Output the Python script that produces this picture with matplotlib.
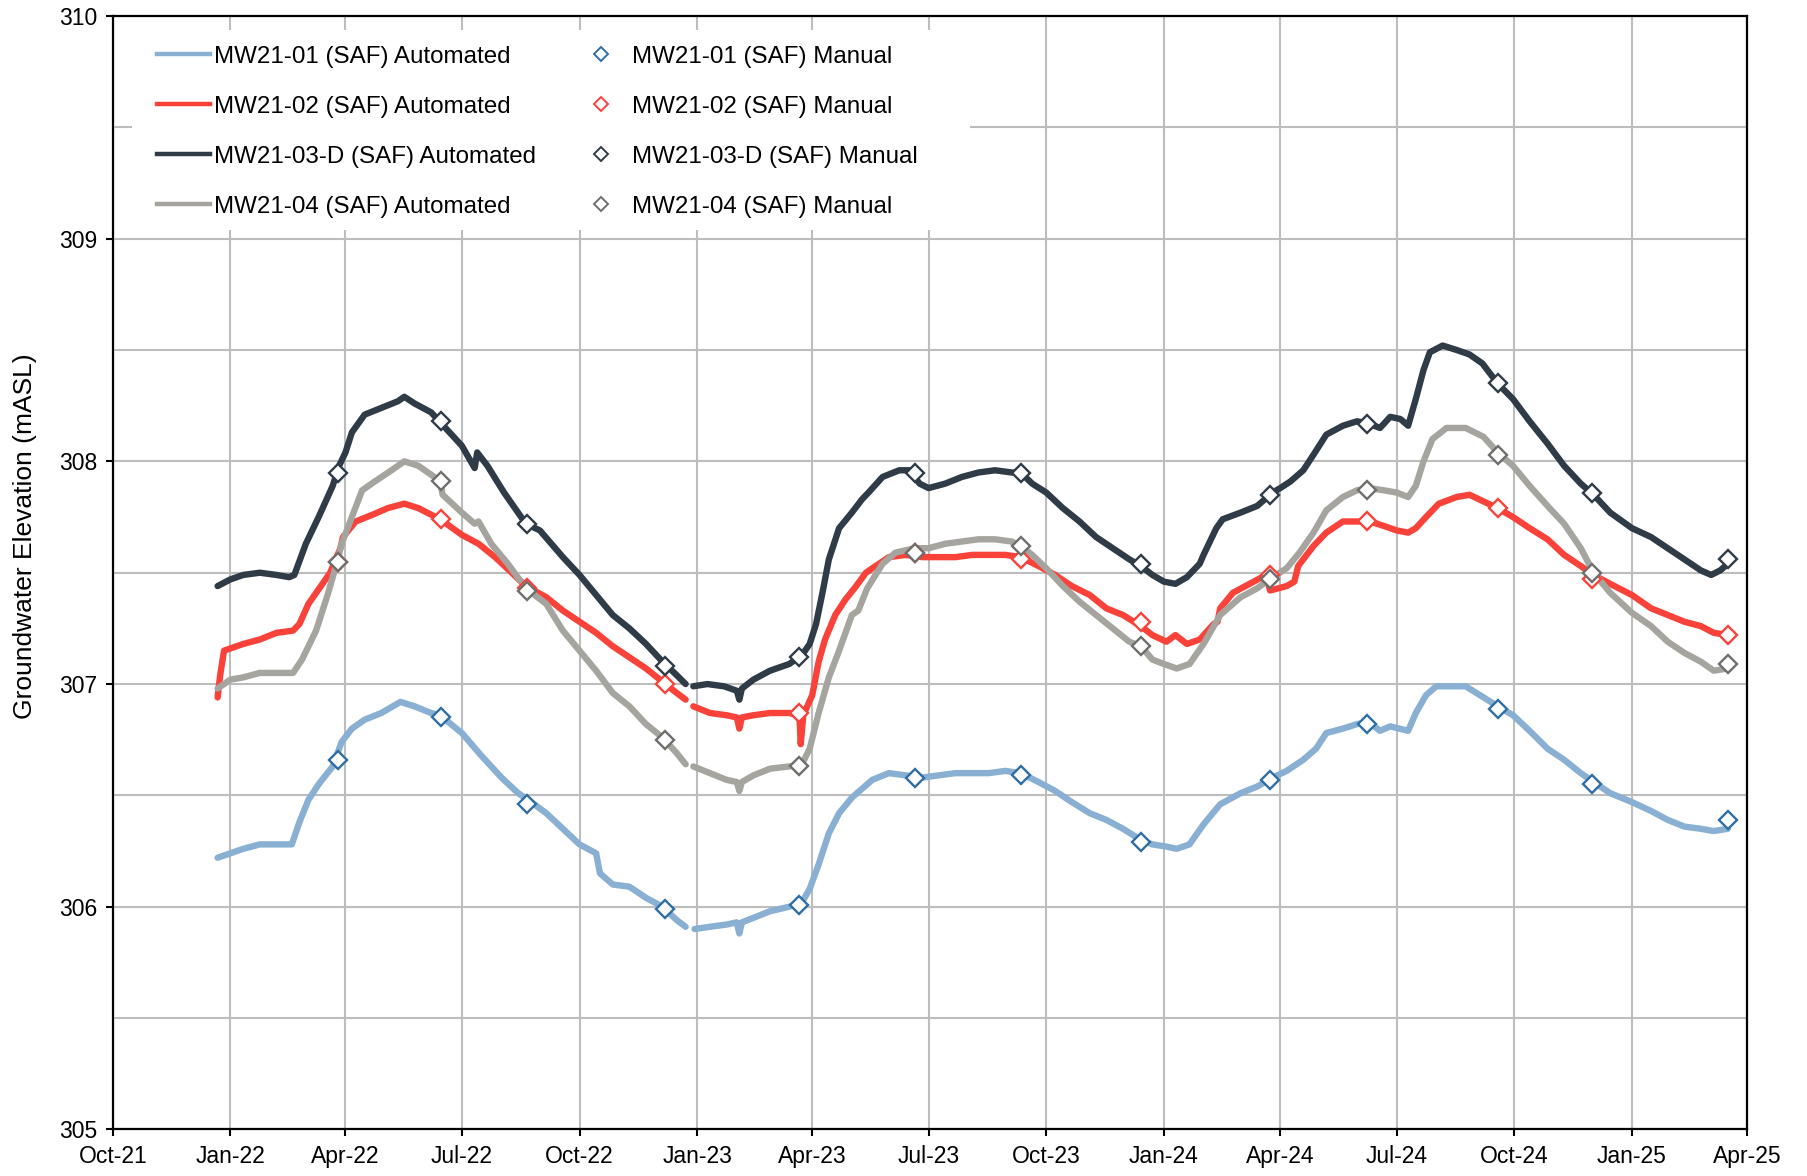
import numpy as np
import pandas as pd
import matplotlib
matplotlib.use("Agg")
import matplotlib.pyplot as plt
from matplotlib.lines import Line2D
from matplotlib.patches import Rectangle

plt.rcParams['font.family'] = ['Liberation Sans', 'DejaVu Sans']

# ---------------- data ----------------
mw01_dates = ["2021-12-22","2022-01-01","2022-01-11","2022-01-24","2022-02-06","2022-02-18","2022-02-24","2022-03-03","2022-03-11","2022-03-22","2022-03-29","2022-04-06","2022-04-16","2022-04-29","2022-05-14","2022-05-25","2022-06-07","2022-06-14","2022-07-01","2022-07-16","2022-08-01","2022-08-14","2022-08-22","2022-09-05","2022-09-18","2022-10-01","2022-10-14","2022-10-17","2022-10-27","2022-11-09","2022-11-22","2022-12-05","2022-12-16","2022-12-23","2022-12-26","2022-12-30","2023-01-11","2023-01-24","2023-02-01","2023-02-03","2023-02-05","2023-02-14","2023-02-27","2023-03-14","2023-03-24","2023-03-30","2023-04-06","2023-04-14","2023-04-22","2023-05-02","2023-05-10","2023-05-18","2023-05-31","2023-06-13","2023-06-26","2023-07-09","2023-07-22","2023-08-04","2023-08-17","2023-08-30","2023-09-11","2023-09-25","2023-10-08","2023-10-21","2023-11-04","2023-11-17","2023-11-30","2023-12-14","2023-12-23","2024-01-03","2024-01-11","2024-01-21","2024-02-01","2024-02-14","2024-03-01","2024-03-14","2024-03-26","2024-04-06","2024-04-19","2024-04-29","2024-05-07","2024-05-20","2024-05-31","2024-06-09","2024-06-18","2024-06-26","2024-07-10","2024-07-16","2024-07-24","2024-08-01","2024-08-14","2024-08-24","2024-09-07","2024-09-18","2024-09-30","2024-10-13","2024-10-27","2024-11-09","2024-11-22","2024-12-02","2024-12-15","2025-01-01","2025-01-16","2025-01-29","2025-02-11","2025-02-24","2025-03-06","2025-03-17"]
mw01_vals = [306.22,306.24,306.26,306.28,306.28,306.28,306.38,306.48,306.55,306.63,306.74,306.80,306.84,306.87,306.92,306.90,306.87,306.86,306.78,306.68,306.58,306.51,306.48,306.42,306.35,306.28,306.24,306.15,306.10,306.09,306.04,306.00,305.94,305.91,np.nan,305.90,305.91,305.92,305.93,305.88,305.93,305.95,305.98,306.00,306.02,306.08,306.19,306.33,306.42,306.49,306.53,306.57,306.60,306.59,306.58,306.59,306.60,306.60,306.60,306.61,306.60,306.56,306.52,306.47,306.42,306.39,306.35,306.30,306.28,306.27,306.26,306.28,306.37,306.46,306.51,306.54,306.58,306.61,306.66,306.71,306.78,306.80,306.82,306.83,306.79,306.81,306.79,306.87,306.95,306.99,306.99,306.99,306.94,306.90,306.86,306.79,306.71,306.66,306.60,306.56,306.51,306.47,306.43,306.39,306.36,306.35,306.34,306.35]

mw02_dates = ["2021-12-22","2021-12-24","2021-12-27","2022-01-01","2022-01-11","2022-01-24","2022-02-06","2022-02-19","2022-02-24","2022-03-03","2022-03-14","2022-03-20","2022-03-28","2022-03-30","2022-04-09","2022-04-22","2022-05-04","2022-05-17","2022-05-28","2022-06-14","2022-07-01","2022-07-14","2022-07-27","2022-08-09","2022-08-20","2022-09-05","2022-09-18","2022-10-01","2022-10-14","2022-10-27","2022-11-09","2022-11-22","2022-12-05","2022-12-16","2022-12-23","2022-12-26","2022-12-29","2023-01-11","2023-01-24","2023-02-01","2023-02-03","2023-02-05","2023-02-14","2023-02-27","2023-03-14","2023-03-22","2023-03-23","2023-03-25","2023-04-01","2023-04-06","2023-04-11","2023-04-19","2023-04-27","2023-05-04","2023-05-13","2023-05-18","2023-05-31","2023-06-13","2023-06-26","2023-07-09","2023-07-22","2023-08-04","2023-08-17","2023-08-30","2023-09-11","2023-09-25","2023-10-08","2023-10-21","2023-11-04","2023-11-17","2023-11-30","2023-12-14","2023-12-23","2024-01-03","2024-01-10","2024-01-19","2024-01-29","2024-02-09","2024-02-12","2024-02-14","2024-02-24","2024-03-08","2024-03-21","2024-03-24","2024-04-06","2024-04-12","2024-04-15","2024-04-27","2024-05-07","2024-05-20","2024-05-31","2024-06-10","2024-06-21","2024-07-01","2024-07-10","2024-07-16","2024-07-24","2024-08-03","2024-08-17","2024-08-27","2024-09-07","2024-09-18","2024-09-30","2024-10-13","2024-10-27","2024-11-09","2024-11-22","2024-12-02","2024-12-15","2025-01-01","2025-01-16","2025-01-29","2025-02-11","2025-02-24","2025-03-06","2025-03-17"]
mw02_vals = [306.94,307.04,307.15,307.16,307.18,307.20,307.23,307.24,307.27,307.36,307.45,307.50,307.61,307.66,307.73,307.76,307.79,307.81,307.79,307.74,307.67,307.63,307.57,307.50,307.44,307.39,307.33,307.28,307.23,307.17,307.12,307.07,307.01,306.96,306.93,np.nan,306.90,306.87,306.86,306.85,306.80,306.85,306.86,306.87,306.87,306.86,306.73,306.86,306.95,307.10,307.20,307.31,307.38,307.43,307.50,307.52,307.57,307.58,307.57,307.57,307.57,307.58,307.58,307.58,307.57,307.53,307.49,307.44,307.40,307.34,307.31,307.26,307.22,307.19,307.22,307.18,307.20,307.27,307.28,307.34,307.41,307.45,307.49,307.42,307.44,307.46,307.53,307.62,307.68,307.73,307.73,307.73,307.71,307.69,307.68,307.70,307.75,307.81,307.84,307.85,307.82,307.79,307.75,307.70,307.65,307.58,307.53,307.49,307.45,307.40,307.34,307.31,307.28,307.26,307.23,307.22]

mw03_dates = ["2021-12-22","2022-01-01","2022-01-11","2022-01-24","2022-02-06","2022-02-16","2022-02-20","2022-03-01","2022-03-11","2022-03-22","2022-03-27","2022-04-01","2022-04-06","2022-04-16","2022-04-29","2022-05-12","2022-05-17","2022-05-25","2022-06-07","2022-06-15","2022-06-23","2022-07-01","2022-07-11","2022-07-13","2022-07-21","2022-08-03","2022-08-20","2022-08-31","2022-09-18","2022-10-01","2022-10-14","2022-10-27","2022-11-09","2022-11-22","2022-12-05","2022-12-16","2022-12-23","2022-12-26","2022-12-29","2023-01-09","2023-01-22","2023-02-01","2023-02-03","2023-02-05","2023-02-14","2023-02-27","2023-03-14","2023-03-24","2023-03-30","2023-04-04","2023-04-09","2023-04-14","2023-04-22","2023-05-02","2023-05-10","2023-05-15","2023-05-26","2023-06-08","2023-06-16","2023-06-24","2023-07-01","2023-07-14","2023-07-27","2023-08-09","2023-08-22","2023-09-04","2023-09-11","2023-09-20","2023-10-01","2023-10-14","2023-10-27","2023-11-09","2023-11-22","2023-12-05","2023-12-14","2023-12-23","2024-01-01","2024-01-10","2024-01-19","2024-01-29","2024-02-01","2024-02-11","2024-02-16","2024-03-01","2024-03-14","2024-03-26","2024-04-01","2024-04-09","2024-04-19","2024-04-27","2024-05-07","2024-05-20","2024-05-31","2024-06-09","2024-06-18","2024-06-26","2024-07-04","2024-07-10","2024-07-16","2024-07-22","2024-07-27","2024-08-06","2024-08-17","2024-08-27","2024-09-06","2024-09-18","2024-09-30","2024-10-13","2024-10-27","2024-11-09","2024-11-22","2024-12-02","2024-12-15","2025-01-01","2025-01-16","2025-01-29","2025-02-11","2025-02-24","2025-03-04","2025-03-11","2025-03-17"]
mw03_vals = [307.44,307.47,307.49,307.50,307.49,307.48,307.49,307.63,307.75,307.89,307.98,308.04,308.13,308.21,308.24,308.27,308.29,308.26,308.22,308.17,308.12,308.07,307.97,308.04,307.98,307.86,307.72,307.69,307.57,307.49,307.40,307.31,307.25,307.18,307.10,307.04,307.00,np.nan,306.99,307.00,306.99,306.97,306.93,306.98,307.02,307.06,307.09,307.13,307.18,307.27,307.41,307.56,307.70,307.77,307.83,307.86,307.93,307.96,307.96,307.90,307.88,307.90,307.93,307.95,307.96,307.95,307.95,307.90,307.86,307.79,307.73,307.66,307.61,307.56,307.53,307.49,307.46,307.45,307.48,307.54,307.58,307.70,307.74,307.77,307.80,307.86,307.88,307.91,307.96,308.03,308.12,308.16,308.18,308.17,308.15,308.20,308.19,308.16,308.28,308.41,308.49,308.52,308.50,308.48,308.44,308.35,308.28,308.18,308.08,307.98,307.90,307.85,307.77,307.70,307.66,307.61,307.56,307.51,307.49,307.51,307.54]

mw04_dates = ["2021-12-22","2022-01-01","2022-01-11","2022-01-24","2022-02-06","2022-02-19","2022-02-26","2022-03-09","2022-03-18","2022-03-24","2022-03-29","2022-04-06","2022-04-14","2022-04-24","2022-05-07","2022-05-17","2022-05-28","2022-06-07","2022-06-14","2022-06-16","2022-07-01","2022-07-11","2022-07-14","2022-07-24","2022-08-06","2022-08-20","2022-09-05","2022-09-18","2022-10-01","2022-10-14","2022-10-27","2022-11-09","2022-11-22","2022-12-05","2022-12-16","2022-12-23","2022-12-26","2022-12-29","2023-01-11","2023-01-24","2023-02-01","2023-02-03","2023-02-05","2023-02-14","2023-02-27","2023-03-14","2023-03-24","2023-03-30","2023-04-06","2023-04-14","2023-04-22","2023-05-02","2023-05-07","2023-05-14","2023-05-26","2023-06-05","2023-06-20","2023-07-01","2023-07-14","2023-07-27","2023-08-09","2023-08-22","2023-09-04","2023-09-11","2023-09-20","2023-10-01","2023-10-14","2023-10-27","2023-11-09","2023-11-22","2023-12-05","2023-12-14","2023-12-23","2024-01-01","2024-01-11","2024-01-21","2024-02-01","2024-02-14","2024-03-01","2024-03-14","2024-03-26","2024-04-06","2024-04-16","2024-04-27","2024-05-07","2024-05-20","2024-05-31","2024-06-09","2024-06-21","2024-07-01","2024-07-10","2024-07-16","2024-07-22","2024-07-29","2024-08-09","2024-08-24","2024-09-07","2024-09-18","2024-09-30","2024-10-13","2024-10-27","2024-11-09","2024-11-22","2024-12-02","2024-12-15","2025-01-01","2025-01-16","2025-01-29","2025-02-11","2025-02-24","2025-03-06","2025-03-17"]
mw04_vals = [306.98,307.02,307.03,307.05,307.05,307.05,307.11,307.24,307.40,307.52,307.63,307.75,307.87,307.91,307.96,308.00,307.98,307.94,307.91,307.85,307.77,307.72,307.73,307.63,307.54,307.43,307.36,307.24,307.15,307.06,306.96,306.90,306.82,306.76,306.69,306.64,np.nan,306.63,306.60,306.57,306.56,306.52,306.56,306.59,306.62,306.63,306.64,306.71,306.87,307.03,307.15,307.31,307.33,307.43,307.54,307.59,307.61,307.61,307.63,307.64,307.65,307.65,307.64,307.62,307.58,307.52,307.44,307.37,307.31,307.25,307.19,307.17,307.11,307.09,307.07,307.09,307.18,307.31,307.39,307.43,307.48,307.52,307.59,307.68,307.78,307.84,307.87,307.88,307.87,307.86,307.84,307.89,308.00,308.10,308.15,308.15,308.11,308.04,307.98,307.89,307.80,307.72,307.61,307.50,307.41,307.32,307.26,307.19,307.14,307.10,307.06,307.07]

manual_dates = ["2022-03-26","2022-06-15","2022-08-21","2022-12-07","2023-03-22","2023-06-20","2023-09-11","2023-12-14","2024-03-24","2024-06-08","2024-09-18","2024-12-01","2025-03-17"]
mw01_manual = [306.66,306.85,306.46,305.99,306.01,306.58,306.59,306.29,306.57,306.82,306.89,306.55,306.39]
mw02_manual = [307.55,307.74,307.43,307.00,306.87,307.59,307.56,307.28,307.49,307.73,307.79,307.47,307.22]
mw03_manual = [307.95,308.18,307.72,307.08,307.12,307.95,307.95,307.54,307.85,308.17,308.35,307.86,307.56]
mw04_manual = [307.55,307.91,307.42,306.75,306.63,307.59,307.62,307.17,307.47,307.87,308.03,307.50,307.09]

x_tick_labels = ["Oct-21","Jan-22","Apr-22","Jul-22","Oct-22","Jan-23","Apr-23","Jul-23",
                 "Oct-23","Jan-24","Apr-24","Jul-24","Oct-24","Jan-25","Apr-25"]
y_ticks = [305, 306, 307, 308, 309, 310]

# ---------------- styling ----------------
c_blue, c_blue_m = "#89b0d2", "#2f6ea3"
c_red, c_red_m = "#f9423a", "#f9423a"
c_dark, c_dark_m = "#2f3b47", "#2f3b47"
c_gray, c_gray_m = "#a6a49f", "#6e6e6c"

fig = plt.figure(figsize=(18.07, 11.76), dpi=100)
ax = fig.add_axes([0.0624, 0.0396, 0.9044, 0.9468])

autos = [(mw01_dates, mw01_vals, c_blue, "MW21-01 (SAF) Automated"),
         (mw02_dates, mw02_vals, c_red, "MW21-02 (SAF) Automated"),
         (mw03_dates, mw03_vals, c_dark, "MW21-03-D (SAF) Automated"),
         (mw04_dates, mw04_vals, c_gray, "MW21-04 (SAF) Automated")]
mans = [(mw01_manual, c_blue_m, "MW21-01 (SAF) Manual"),
        (mw02_manual, c_red_m, "MW21-02 (SAF) Manual"),
        (mw03_manual, c_dark_m, "MW21-03-D (SAF) Manual"),
        (mw04_manual, c_gray_m, "MW21-04 (SAF) Manual")]

lw = 4.6
for d, v, c, lab in autos:
    ax.plot(pd.to_datetime(d), v, color=c, lw=lw, solid_capstyle='round',
            solid_joinstyle='round', zorder=3)

mdt = pd.to_datetime(manual_dates)
for v, c, lab in mans:
    ax.plot(mdt, v, linestyle='none', marker='D', markersize=9.5,
            markerfacecolor='white', markeredgecolor=c, markeredgewidth=1.7, zorder=4)

ax.set_xlim(pd.Timestamp("2021-10-01"), pd.Timestamp("2025-04-01"))
ax.set_ylim(305, 310)
xt = pd.date_range("2021-10-01", "2025-04-01", freq="QS-JAN")
ax.set_xticks(xt)
ax.set_xticklabels(x_tick_labels)
ax.set_yticks(y_ticks)
ax.set_yticks(np.arange(305.5, 310, 1.0), minor=True)
ax.tick_params(axis='y', which='minor', length=0)
ax.tick_params(axis='both', which='major', direction='out', length=5, width=1.5,
               labelsize=16.5, colors='black', pad=6)
ax.grid(True, which='both', axis='y', color='#bdbdbd', lw=1.5)
ax.grid(True, which='major', axis='x', color='#bdbdbd', lw=1.5)
ax.set_axisbelow(True)
for s in ax.spines.values():
    s.set_linewidth(1.6)
    s.set_color('black')

ax.set_ylabel("Groundwater Elevation (mASL)", fontsize=19)
ax.yaxis.set_label_coords(-0.0465, 0.533)

# legend background
ax.add_patch(Rectangle((0.0118, 0.808), 0.513, 0.179, transform=ax.transAxes,
                       facecolor='white', edgecolor='none', zorder=1.5))

handles = []
for d, v, c, lab in autos:
    handles.append(Line2D([], [], color=c, lw=3.2, label=lab))
for v, c, lab in mans:
    handles.append(Line2D([], [], linestyle='none', marker='D', markersize=7,
                          markerfacecolor='white', markeredgecolor=c,
                          markeredgewidth=1.4, label=lab))
leg = ax.legend(handles=handles, ncol=2, loc='upper left',
                bbox_to_anchor=(0.021, 0.982), frameon=False, fontsize=17.4,
                handlelength=2.2, handletextpad=0.17, columnspacing=1.6,
                labelspacing=1.16, borderaxespad=0, borderpad=0.4)
leg.set_zorder(5)

fig.savefig("out.png", dpi=100)
